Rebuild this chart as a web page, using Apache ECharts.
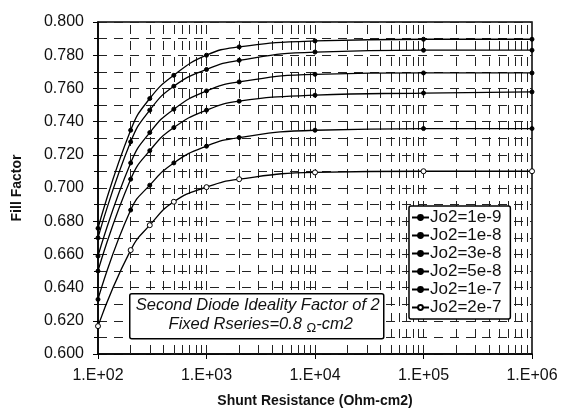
<!DOCTYPE html>
<html>
<head>
<meta charset="utf-8">
<script src="https://cdn.jsdelivr.net/npm/echarts@6/dist/echarts.min.js"></script>
<style>html,body{margin:0;padding:0;background:#fff;}#c{width:563px;height:418px;}</style>
</head>
<body>
<div id="c"></div>
<script>
const shuntR = [100, 200, 300, 500, 1000, 2000, 10000, 100000, 1000000];
const jo2_1e9 = [0.6757, 0.7348, 0.7539, 0.7679, 0.7800, 0.7850, 0.7886, 0.7896, 0.7896];
const jo2_1e8 = [0.6700, 0.7278, 0.7469, 0.7613, 0.7714, 0.7769, 0.7819, 0.7830, 0.7830];
const jo2_3e8 = [0.6590, 0.7151, 0.7334, 0.7475, 0.7585, 0.7639, 0.7685, 0.7693, 0.7693];
const jo2_5e8 = [0.6500, 0.7053, 0.7225, 0.7364, 0.7469, 0.7523, 0.7559, 0.7572, 0.7579];
const jo2_1e7 = [0.6329, 0.6867, 0.7017, 0.7151, 0.7252, 0.7304, 0.7348, 0.7358, 0.7358];
const jo2_2e7 = [0.6168, 0.6626, 0.6776, 0.6917, 0.7005, 0.7053, 0.7094, 0.7101, 0.7101];
const seriesNames = ['Jo2=1e-9', 'Jo2=1e-8', 'Jo2=3e-8', 'Jo2=5e-8', 'Jo2=1e-7', 'Jo2=2e-7'];
const seriesValues = [jo2_1e9, jo2_1e8, jo2_3e8, jo2_5e8, jo2_1e7, jo2_2e7];
const minorGridX = [200,300,400,500,600,700,800,900,2000,3000,4000,5000,6000,7000,8000,9000,
  20000,30000,40000,50000,60000,70000,80000,90000,200000,300000,400000,500000,600000,700000,800000,900000,
  1000,10000,100000];
const yMin = 0.6, yMax = 0.8, yStep = 0.02;

const FONT = 'Liberation Sans, Arial, sans-serif';
const chart = echarts.init(document.getElementById('c'));
const gridDash = {color: '#222', width: 1, type: [9, 7]};

const series = seriesNames.map((name, i) => {
  const s = {
    name: name,
    type: 'line',
    data: shuntR.map((x, j) => [x, seriesValues[i][j]]),
    smooth: 0.5,
    symbol: 'circle',
    symbolSize: i === 5 ? 5 : 4,
    lineStyle: {color: '#000', width: 1.3},
    itemStyle: {color: i === 5 ? '#fff' : '#000', borderColor: '#000', borderWidth: 1},
    z: 5
  };
  if (i === 0) {
    s.markLine = {
      silent: true,
      symbol: 'none',
      label: {show: false},
      lineStyle: gridDash,
      animation: false,
      z: 1,
      data: minorGridX.map(v => ({xAxis: v}))
    };
  }
  return s;
});

chart.setOption({
  animation: false,
  backgroundColor: '#fff',
  grid: {left: 98, right: 31, top: 22, bottom: 64, show: true, borderColor: '#000', borderWidth: 1.5, backgroundColor: 'transparent'},
  xAxis: {
    type: 'log', logBase: 10, min: 100, max: 1000000,
    name: 'Shunt Resistance (Ohm-cm2)', nameLocation: 'middle', nameGap: 40,
    nameTextStyle: {fontFamily: FONT, fontSize: 14, fontWeight: 'bold', color: '#111'},
    axisLine: {lineStyle: {color: '#000', width: 1.5}},
    axisTick: {show: true, inside: false, length: 5, lineStyle: {color: '#000'}},
    axisLabel: {fontFamily: FONT, fontSize: 16, color: '#111', margin: 14,
      formatter: v => '1.E+' + String(Math.round(Math.log10(v))).padStart(2, '0')},
    splitLine: {show: false},
    minorTick: {show: false}
  },
  yAxis: {
    type: 'value', min: yMin, max: yMax, interval: yStep,
    name: 'Fill Factor', nameLocation: 'middle', nameGap: 74,
    nameTextStyle: {fontFamily: FONT, fontSize: 14, fontWeight: 'bold', color: '#111'},
    axisLine: {show: true, lineStyle: {color: '#000', width: 1.5}},
    axisTick: {show: true, length: 5, lineStyle: {color: '#000'}},
    minorTick: {show: true, splitNumber: 2, length: 4, lineStyle: {color: '#000'}},
    axisLabel: {fontFamily: FONT, fontSize: 16, color: '#111', margin: 14, formatter: v => v.toFixed(3)},
    splitLine: {show: true, lineStyle: gridDash},
    minorSplitLine: {show: true, lineStyle: gridDash}
  },
  legend: {
    orient: 'vertical', left: 409, top: 206,
    backgroundColor: '#fff', borderColor: '#000', borderWidth: 1.5, borderRadius: 2,
    padding: [3, 9, 3, 2], itemGap: 1, itemWidth: 17, itemHeight: 6,
    textStyle: {fontFamily: FONT, fontSize: 17, color: '#111', lineHeight: 15.8, padding: [0, 0, 0, -4]},
    data: seriesNames
  },
  graphic: [{
    type: 'group', left: 129, top: 293, z: 100,
    children: [
      {type: 'rect', shape: {x: 0, y: 0, width: 254, height: 45, r: 2}, style: {fill: '#fff', stroke: '#000', lineWidth: 1.5}, z: 100},
      {type: 'text', x: 128, y: 12, z: 101, style: {text: 'Second Diode Ideality Factor of 2', align: 'center', verticalAlign: 'middle',
        font: 'italic 16.5px ' + FONT, fill: '#111'}},
      {type: 'text', x: 131, y: 31, z: 101, style: {
        text: 'Fixed Rseries=0.8 {o|Ω}-cm2', align: 'center', verticalAlign: 'middle',
        font: 'italic 16.5px ' + FONT, fill: '#111',
        rich: {o: {fontSize: 13, fontStyle: 'normal', fontFamily: FONT, verticalAlign: 'bottom', padding: [8, 0, 0, 0]}}}}
    ]
  }],
  series: series
});
</script>
</body>
</html>
